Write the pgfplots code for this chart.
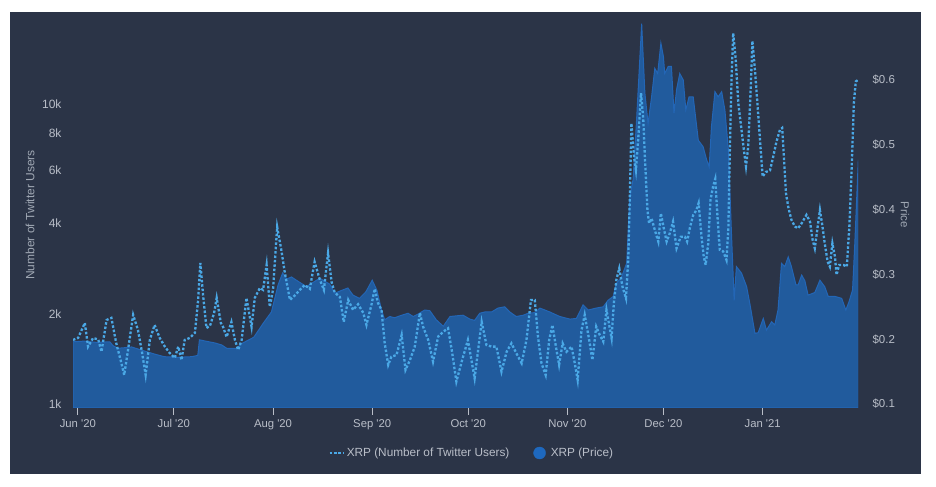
\documentclass[border=0pt]{standalone}
\usepackage{pgfplots}
\pgfplotsset{compat=1.18}
\usepackage{pgfplotstable}
\usepackage{fontspec}
\setmainfont{Liberation Sans}
\definecolor{panel}{RGB}{43,52,71}
\definecolor{areafill}{RGB}{33,91,157}
\definecolor{areaedge}{RGB}{35,102,182}
\definecolor{dots}{RGB}{74,168,230}
\definecolor{ticktxt}{RGB}{185,190,200}
\definecolor{titletxt}{RGB}{160,168,180}
\definecolor{legcirc}{RGB}{30,104,190}

\pgfplotstableread{
d P
-1.5 0.196
2 0.197
6 0.195
10 0.196
11 0.190
12.5 0.186
15 0.187
16.8 0.188
20 0.183
24 0.177
27 0.173
31 0.172
35.6 0.173
37.5 0.175
38 0.199
40 0.197
43 0.194
45 0.191
46.5 0.186
49.6 0.186
51.5 0.194
55 0.203
58 0.225
60.5 0.242
62.6 0.284
64 0.302
65.3 0.293
66.8 0.296
68.3 0.291
71.5 0.281
73 0.286
75.6 0.294
78.7 0.285
80.3 0.271
82.8 0.276
84.4 0.279
86 0.268
88 0.263
90 0.273
92 0.291
93.5 0.275
94.9 0.245
95.9 0.230
97.5 0.235
99 0.233
100.6 0.236
103.2 0.240
104.8 0.235
106.4 0.239
108.4 0.245
110 0.244
112 0.230
114.2 0.220
116.3 0.235
118.3 0.236
120.4 0.237
122.5 0.231
124 0.229
125.6 0.240
127.2 0.242
129.3 0.242
131.3 0.248
133.4 0.250
135 0.242
137 0.235
139.2 0.237
140.7 0.240
142.8 0.241
144.4 0.248
147.5 0.242
150.6 0.235
153.8 0.231
155.8 0.232
157.9 0.253
159.5 0.245
162 0.248
164.2 0.250
165.7 0.260
167.3 0.266
168.3 0.286
169.9 0.296
171.5 0.317
172.5 0.420
173.5 0.446
174.6 0.538
176.2 0.687
177.2 0.580
178.2 0.533
179.3 0.574
180.3 0.618
181.2 0.610
182.2 0.657
183 0.636
183.4 0.610
184.5 0.621
185.5 0.621
186.3 0.549
187.1 0.585
188.1 0.610
189.2 0.600
190 0.554
191 0.574
192.3 0.574
193.9 0.507
195.4 0.497
196.5 0.477
197.3 0.466
198 0.528
199.1 0.582
200.1 0.574
201.2 0.582
202.2 0.554
203.3 0.492
204.3 0.358
205.1 0.260
205.8 0.312
207.4 0.302
209 0.281
210 0.255
211.6 0.209
212.6 0.210
214.2 0.232
215.2 0.214
216.8 0.227
217.8 0.222
218.8 0.245
219.9 0.317
220.9 0.312
222 0.327
223 0.312
224.4 0.284
225.1 0.284
226.2 0.299
227.2 0.290
228.2 0.268
230.3 0.272
231.9 0.291
233.4 0.281
234.5 0.266
236.6 0.266
238.7 0.263
240 0.245
241 0.258
242.1 0.276
242.8 0.348
243.9 0.477
}\pricetable

\pgfplotstableread{
d T
-1.5 1635
0.1 1660
2.2 1862
3.2 1553
4.8 1660
6.4 1640
7.4 1493
9 1905
10.5 1936
12 1596
13.6 1370
14.5 1249
15.7 1514
17.3 1982
18.8 1763
20.1 1479
21.2 1249
22.5 1634
24 1834
25.6 1660
27.2 1553
28.7 1479
30.3 1423
31.4 1553
32.4 1401
33.4 1634
35 1660
36.6 1725
37.6 2222
38.3 2950
39.2 2274
40.2 1792
41.3 1820
42.6 2011
43.4 2256
44.7 1862
45.4 1806
46.5 1672
48 1876
49.1 1634
50.1 1514
51.2 1634
52.7 2256
54.3 1806
55.3 2256
56.9 2435
57.9 2400
59 2906
60 2106
61 2400
62.3 3890
63.6 3259
64.7 2735
66.3 2222
67.8 2300
69.4 2400
70.9 2492
72.5 2420
74 2976
75.6 2600
76.9 2400
78.2 3187
79.3 2550
80.3 2350
81.9 2274
83.1 1876
84.5 2222
86 2059
87.6 2150
89.2 2011
90.2 1834
91.8 2150
92.8 2420
93.8 2172
94.9 2059
95.9 1596
97 1349
98 1438
99.6 1456
101.2 1698
102.4 1298
103.8 1401
105.3 1553
106.9 2011
107.9 1810
109.5 1634
111 1384
112.6 1676
114.2 1742
115.7 1787
117 1479
118.3 1187
120.1 1401
121.9 1634
124 1218
126.2 1880
127.7 1572
129.3 1553
130.8 1553
132.4 1281
134 1493
135.5 1593
137 1479
138.7 1366
140.2 1634
141.6 2222
142.8 2222
143.8 1676
144.9 1366
146.2 1249
147.3 1634
148.3 1834
149.4 1553
150.4 1349
151.5 1593
152.7 1493
154.3 1553
155.3 1366
156.2 1202
157.4 1763
158.4 1982
159.8 1634
160.8 1401
162 1810
163.1 1698
164.2 1613
165.2 2059
166.8 1657
167.5 2165
168.3 2594
169.2 2832
170.2 2461
171.3 2250
172 3020
172.5 4909
173 8630
173.8 6672
174.4 6026
175.1 7586
176 10864
176.7 8913
177.2 6672
178 4430
178.5 4003
179.3 4155
180.3 3802
181.4 3477
182.2 4321
183 3903
184 3477
185 3711
186 4055
187.1 3304
188.4 3609
189.7 3609
190.4 3477
191.3 3880
192.3 4260
193.3 4430
194 4670
194.9 3609
195.6 3097
196.2 2907
197 3431
197.7 4786
198.5 5297
199.2 5625
199.9 4204
200.6 3266
201.7 3222
202.7 3020
203.3 3903
203.8 7424
204.3 12340
204.8 17220
205.6 14030
206.4 10046
207.4 8195
208.1 7079
208.8 6197
209.5 7225
210.3 11440
210.8 16218
211.6 12970
212.3 10280
213.1 7800
214 5725
215 5932
216.3 6003
217.3 6672
218.3 7470
219.4 8195
220.1 8318
220.7 6501
221.3 5032
222 4538
223 4104
224.1 3903
225.1 3850
226.2 4003
227.7 4268
228.8 4055
229.6 3530
230.3 3304
231.2 3903
231.9 4430
232.7 3903
233.4 3431
234.3 2984
235 2870
235.8 3431
236.6 3097
237.1 2692
237.9 2907
239.2 2907
240.3 2870
241.1 3903
241.8 6026
242.5 10046
243.1 11880
243.8 12022
}\twittertable

\begin{document}
\begin{tikzpicture}
\useasboundingbox (0,0) rectangle (936bp,487bp);
\fill[white] (0,0) rectangle (936bp,487bp);
\fill[panel] (10bp,13bp) rectangle (921bp,475bp);

% Price axis (right), drawn first so the area is behind
\begin{axis}[
  at={(73bp,79bp)}, anchor=south west,
  scale only axis, width=785bp, height=388bp,
  xmin=-1.5, xmax=243.8,
  ymin=0.0938, ymax=0.6926,
  axis y line*=right, axis x line=none,
  axis line style={draw=none},
  ytick={0.1,0.2,0.3,0.4,0.5,0.6},
  yticklabels={\$0.1,\$0.2,\$0.3,\$0.4,\$0.5,\$0.6},
  ytick style={draw=none},
  yticklabel style={font=\fontsize{11.5bp}{13bp}\selectfont, text=ticktxt, anchor=west, xshift=11bp},
]
\addplot[fill=areafill, draw=areaedge, line width=1bp] table[x=d,y=P] {\pricetable} \closedcycle;
\end{axis}

% Twitter users axis (left, log)
\begin{axis}[
  at={(73bp,79bp)}, anchor=south west,
  scale only axis, width=785bp, height=388bp,
  xmin=-1.5, xmax=243.8,
  ymode=log, ymin=969.5, ymax=19055,
  axis y line*=left, axis x line*=bottom,
  axis line style={draw=none},
  ytick={1000,2000,4000,6000,8000,10000},
  yticklabels={1k,2k,4k,6k,8k,10k},
  ytick style={draw=none},
  yticklabel style={font=\fontsize{12bp}{13bp}\selectfont, text=ticktxt, anchor=east, xshift=-1bp},
  xtick={0,30,61,92,122,153,183,214},
  xticklabels={Jun \textquotesingle20,Jul \textquotesingle20,Aug \textquotesingle20,Sep \textquotesingle20,Oct \textquotesingle20,Nov \textquotesingle20,Dec \textquotesingle20,Jan \textquotesingle21},
  xtick style={draw=ticktxt, line width=0.8bp},
  tick align=outside, major tick length=7bp,
  xticklabel style={font=\fontsize{11.3bp}{13bp}\selectfont, text=ticktxt, yshift=-1bp},
  minor tick num=0,
  legend columns=2,
  legend style={draw=none, fill=none, text=ticktxt, font=\fontsize{11.8bp}{13bp}\selectfont,
    at={(0.508,-0.116)}, anchor=center, /tikz/every even column/.append style={column sep=22bp}},
  legend image code/.code={\draw[#1] (0bp,0bp) -- (14bp,0bp);},
]
\addplot[dots, line width=2.3bp, dash pattern=on 2.5bp off 1.9bp, mark=none] table[x=d,y=T] {\twittertable};
\addlegendentry{XRP (Number of Twitter Users)}
\addlegendimage{legend image code/.code={\fill[legcirc] (6bp,0bp) circle (6bp); \path (15bp,0bp);}}
\addlegendentry{XRP (Price)}
\end{axis}

\node[rotate=90, text=titletxt, font=\fontsize{12bp}{13bp}\selectfont] at (30bp,272bp) {Number of Twitter Users};
\node[rotate=-90, text=titletxt, font=\fontsize{11.5bp}{13bp}\selectfont] at (905bp,272bp) {Price};
\end{tikzpicture}
\end{document}
